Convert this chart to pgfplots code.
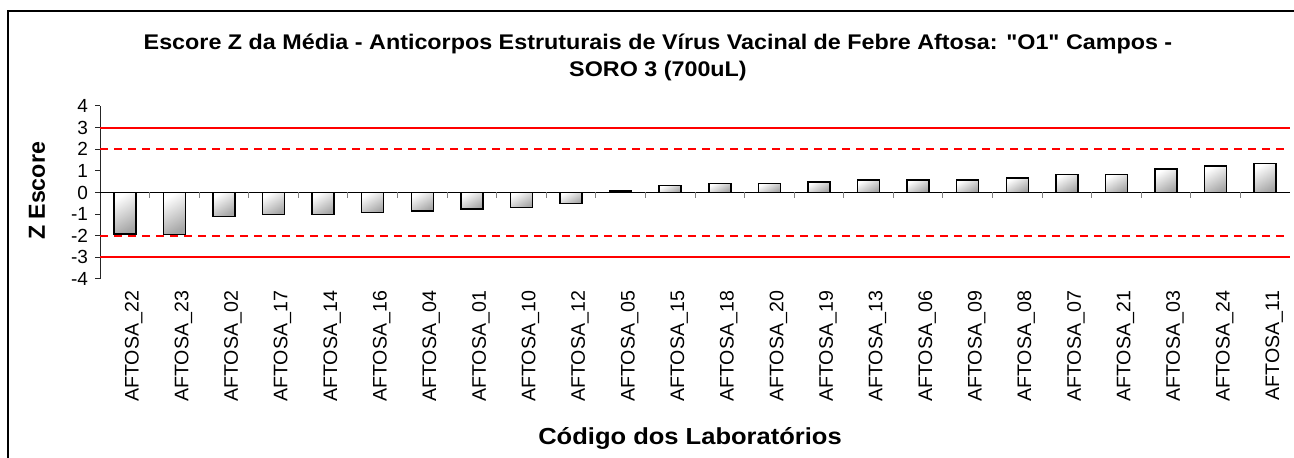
\documentclass[border=0pt]{standalone}
\usepackage{fontspec}
\setmainfont{Liberation Sans}
\newfontfamily\widefont[FakeStretch=1.1]{Liberation Sans}
\usepackage{pgfplots}
\pgfplotsset{compat=1.18}
\definecolor{zred}{RGB}{255,0,0}
\begin{document}
\begin{tikzpicture}
\useasboundingbox (0,0) rectangle (647pt,229pt);
\draw[line width=0.6pt, black] (4pt,-5pt) -- (4pt,223.5pt) -- (652pt,223.5pt);
\begin{axis}[
  at={(50pt,89.5pt)}, anchor=south west,
  scale only axis, width=595pt, height=86.5pt,
  xmin=-0.5, xmax=23.5, ymin=-4, ymax=4,
  axis x line=bottom, axis y line=left,
  axis line style={-},
  x axis line style={draw=none},
  y axis line style={black!85, line width=0.5pt},
  xtick={0,...,23},
  xticklabels={AFTOSA\_22,AFTOSA\_23,AFTOSA\_02,AFTOSA\_17,AFTOSA\_14,AFTOSA\_16,AFTOSA\_04,AFTOSA\_01,AFTOSA\_10,AFTOSA\_12,AFTOSA\_05,AFTOSA\_15,AFTOSA\_18,AFTOSA\_20,AFTOSA\_19,AFTOSA\_13,AFTOSA\_06,AFTOSA\_09,AFTOSA\_08,AFTOSA\_07,AFTOSA\_21,AFTOSA\_03,AFTOSA\_24,AFTOSA\_11},
  x tick style={draw=none},
  xticklabel style={rotate=90, anchor=east, font=\fontsize{9.8}{11}\selectfont, yshift=-4.5pt},
  ytick={-4,...,4},
  tick align=outside,
  major tick length=2.5pt,
  y tick style={black!85, line width=0.5pt},
  yticklabel style={font=\fontsize{9.5}{11}\selectfont},
  /pgf/number format/assume math mode=true,
  clip=false,
  zbar/.style={ybar, bar width=11pt, bar shift=0pt, draw=black, line width=0.75pt,
    top color=white, bottom color=black!35, shading angle=30, forget plot},
  zline/.style={color=zred, draw=zred, line width=1pt, no marks, forget plot},
]
\addplot[zline] coordinates {(-0.5,3) (23.5,3)};
\addplot[zline] coordinates {(-0.5,-3) (23.5,-3)};
\addplot[zline, line width=0.9pt, dash pattern=on 4pt off 3pt] coordinates {(-0.5,2) (23.5,2)};
\addplot[zline, line width=0.9pt, dash pattern=on 4pt off 3pt] coordinates {(-0.5,-2) (23.5,-2)};
\addplot[zbar] coordinates {(0,-1.91)};
\addplot[zbar] coordinates {(1,-1.94)};
\addplot[zbar] coordinates {(2,-1.10)};
\addplot[zbar] coordinates {(3,-1.02)};
\addplot[zbar] coordinates {(4,-1.02)};
\addplot[zbar] coordinates {(5,-0.93)};
\addplot[zbar] coordinates {(6,-0.85)};
\addplot[zbar] coordinates {(7,-0.77)};
\addplot[zbar] coordinates {(8,-0.69)};
\addplot[zbar] coordinates {(9,-0.52)};
\addplot[zbar] coordinates {(10,0.07)};
\addplot[zbar] coordinates {(11,0.32)};
\addplot[zbar] coordinates {(12,0.42)};
\addplot[zbar] coordinates {(13,0.42)};
\addplot[zbar] coordinates {(14,0.49)};
\addplot[zbar] coordinates {(15,0.57)};
\addplot[zbar] coordinates {(16,0.57)};
\addplot[zbar] coordinates {(17,0.57)};
\addplot[zbar] coordinates {(18,0.66)};
\addplot[zbar] coordinates {(19,0.83)};
\addplot[zbar] coordinates {(20,0.83)};
\addplot[zbar] coordinates {(21,1.08)};
\addplot[zbar] coordinates {(22,1.23)};
\addplot[zbar] coordinates {(23,1.34)};
\draw[black, line width=0.5pt] (axis cs:-0.5,0) -- (axis cs:23.5,0);
\pgfplotsinvokeforeach{0.5,1.5,...,22.5}{
  \draw[gray, line width=0.5pt] (axis cs:#1,0) -- ([yshift=-3pt]axis cs:#1,0);
}
\end{axis}
\node[font=\widefont\bfseries\fontsize{10.6}{13.5}\selectfont, align=center] at (329pt,200.5pt)
  {Escore Z da Média - Anticorpos Estruturais de Vírus Vacinal de Febre Aftosa: "O1" Campos -\\SORO 3 (700uL)};
\node[rotate=90, font=\bfseries\fontsize{11.6}{14}\selectfont] at (18.5pt,133.5pt) {Z Escore};
\node[font=\widefont\bfseries\fontsize{11.6}{14}\selectfont] at (345pt,10pt) {Código dos Laboratórios};
\end{tikzpicture}
\end{document}
